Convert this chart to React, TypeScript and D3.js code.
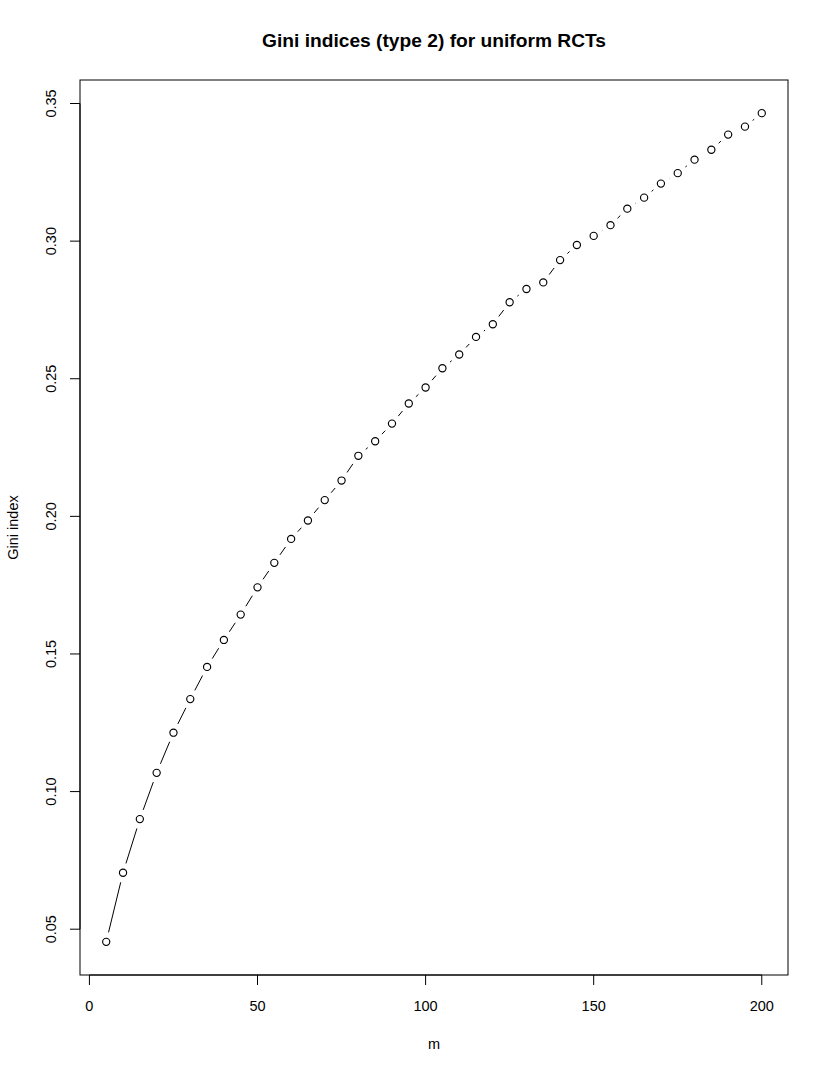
import React from "react";
import * as d3 from "d3";

const mValues = [5, 10, 15, 20, 25, 30, 35, 40, 45, 50, 55, 60, 65, 70, 75, 80, 85, 90, 95, 100,
  105, 110, 115, 120, 125, 130, 135, 140, 145, 150, 155, 160, 165, 170, 175, 180, 185, 190, 195, 200];
const giniValues = [0.0454, 0.0705, 0.0900, 0.1068, 0.1214, 0.1336, 0.1453, 0.1551, 0.1643, 0.1742,
  0.1831, 0.1918, 0.1985, 0.2059, 0.2130, 0.2220, 0.2273, 0.2337, 0.2410, 0.2468,
  0.2538, 0.2588, 0.2652, 0.2698, 0.2778, 0.2826, 0.2850, 0.2931, 0.2986, 0.3019,
  0.3058, 0.3118, 0.3158, 0.3209, 0.3247, 0.3296, 0.3332, 0.3387, 0.3416, 0.3465];
const xTicks = [0, 50, 100, 150, 200];
const yTicks = [0.05, 0.10, 0.15, 0.20, 0.25, 0.30, 0.35];
const title = "Gini indices (type 2) for uniform RCTs";
const xLabel = "m";
const yLabel = "Gini index";

const W = 830, H = 1075;
const L = 80, R = 788, T = 80, B = 975;
const FONT = "'Liberation Sans', Arial, Helvetica, sans-serif";
const FS = 14.5;

function padExtent(vals: number[]): [number, number] {
  const [a, b] = d3.extent(vals) as [number, number];
  const p = (b - a) * 0.04;
  return [a - p, b + p];
}

export default function App() {
  const x = d3.scaleLinear().domain(padExtent(mValues)).range([L, R]);
  const y = d3.scaleLinear().domain(padExtent(giniValues)).range([B, T]);
  const pts = mValues.map((m, i) => [x(m), y(giniValues[i])] as [number, number]);
  const gap = 9.8;
  const segs: string[] = [];
  for (let i = 1; i < pts.length; i++) {
    const [x0, y0] = pts[i - 1];
    const [x1, y1] = pts[i];
    const len = Math.hypot(x1 - x0, y1 - y0);
    const f = gap / len;
    if (f < 0.5) {
      const p = d3.path();
      p.moveTo(x0 + f * (x1 - x0), y0 + f * (y1 - y0));
      p.lineTo(x1 - f * (x1 - x0), y1 - f * (y1 - y0));
      segs.push(p.toString());
    }
  }
  return (
    <svg width={W} height={H} style={{ position: "absolute", left: 0, top: 0, background: "#fff" }}
      fontFamily={FONT}>
      <rect x={0} y={0} width={W} height={H} fill="#fff" />
      <text x={(L + R) / 2} y={47} textAnchor="middle" fontSize={19.2} fontWeight="bold">{title}</text>
      <rect x={L} y={T} width={R - L} height={B - T} fill="none" stroke="#000" strokeWidth={1} />
      {/* x axis */}
      <line x1={x(xTicks[0])} x2={x(xTicks[xTicks.length - 1])} y1={B} y2={B} stroke="#000" />
      {xTicks.map((t) => (
        <g key={"x" + t}>
          <line x1={x(t)} x2={x(t)} y1={B} y2={B + 10} stroke="#000" />
          <text x={x(t)} y={1011} textAnchor="middle" fontSize={FS}>{t}</text>
        </g>
      ))}
      {/* y axis */}
      <line x1={L} x2={L} y1={y(yTicks[0])} y2={y(yTicks[yTicks.length - 1])} stroke="#000" />
      {yTicks.map((t) => (
        <g key={"y" + t}>
          <line x1={L - 10} x2={L} y1={y(t)} y2={y(t)} stroke="#000" />
          <text transform={`translate(56,${y(t)}) rotate(-90)`} textAnchor="middle" fontSize={FS}>
            {d3.format(".2f")(t)}
          </text>
        </g>
      ))}
      <text x={(L + R) / 2} y={1049} textAnchor="middle" fontSize={FS}>{xLabel}</text>
      <text transform={`translate(18,${(T + B) / 2}) rotate(-90)`} textAnchor="middle" fontSize={FS}>{yLabel}</text>
      {segs.map((d, i) => (
        <path key={"s" + i} d={d} stroke="#000" strokeWidth={1} fill="none" />
      ))}
      {pts.map(([px, py], i) => (
        <circle key={"c" + i} cx={px} cy={py} r={3.6} fill="none" stroke="#000" strokeWidth={1.15} />
      ))}
    </svg>
  );
}
